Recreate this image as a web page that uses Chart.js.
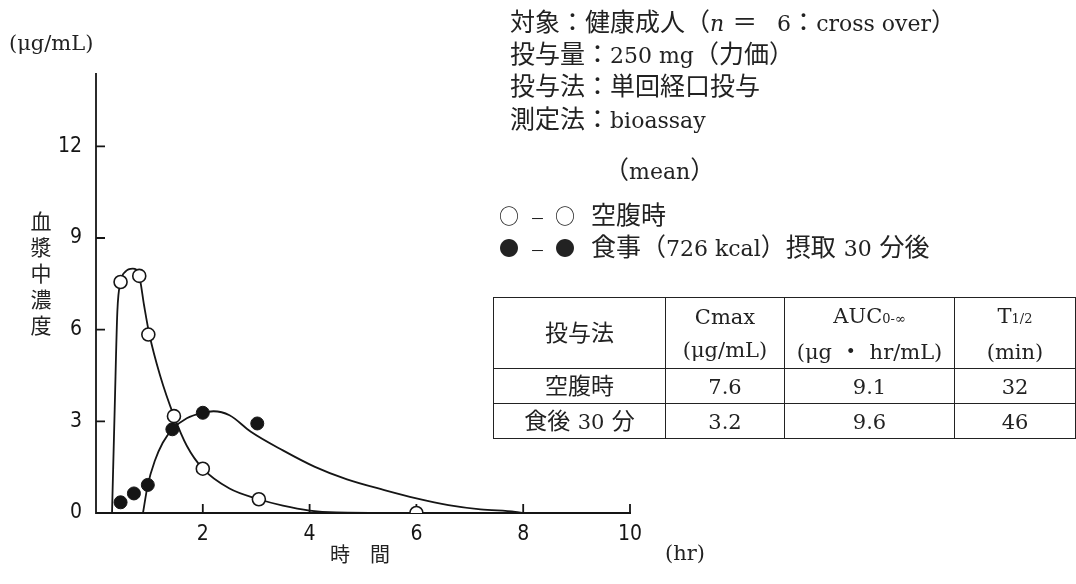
<!DOCTYPE html>
<html lang="ja">
<head>
<meta charset="utf-8">
<script src="https://cdn.jsdelivr.net/npm/chart.js@4.4.1/dist/chart.umd.min.js"></script>
<style>
  html, body { margin: 0; padding: 0; background: #fff; }
  #wrap { position: relative; width: 1076px; height: 584px; overflow: hidden; }
  #c { position: absolute; left: 0; top: 0; }
  .t { position: absolute; white-space: nowrap; color: #222; line-height: 32px;
       font-family: "DejaVu Serif", "Noto Sans CJK JP", serif; }
  .b { font-size: 25px; }
  .l { font-size: 22px; font-family: "DejaVu Serif", serif; }
  .j { font-family: "Noto Sans CJK JP", sans-serif; }
  .m { font-family: "Noto Sans CJK JP", sans-serif; font-size: 20px; }
  .d { font-family: "Noto Sans CJK JP", sans-serif; font-size: 15px; margin: 0 10px 0 11px; }
  table { position: absolute; left: 493px; top: 297px; border-collapse: collapse;
          font-family: "DejaVu Serif", "Noto Sans CJK JP", serif; font-size: 23px; color: #222; }
  td { border: 1.5px solid #222; text-align: center; padding: 0; line-height: 32px; }
  td .l { font-size: 21px; }
  sub { font-size: 13px; vertical-align: baseline; font-family: "DejaVu Serif", serif; }
</style>
</head>
<body>
<div id="wrap">
  <canvas id="c" width="1076" height="584"></canvas>
  <div class="t" style="left:9px;top:27px;font-size:21px;">(μg/mL)</div>
  <div class="t j" style="left:26px;top:211px;font-size:21px;line-height:normal;writing-mode:vertical-rl;letter-spacing:5px;">血漿中濃度</div>
  <div class="t j" style="left:330px;top:538px;font-size:20px;">時　間</div>
  <div class="t" style="left:665px;top:537px;font-size:21px;">(hr)</div>

  <div class="t b" style="left:510px;top:7px;">対象：健康成人（<i class="l">n</i> <span style="margin-right:12px;">＝</span> <span class="l">6</span>：<span class="l">cross over</span>）</div>
  <div class="t b" style="left:510px;top:39px;">投与量：<span class="l">250 mg</span>（力価）</div>
  <div class="t b" style="left:510px;top:71px;">投与法：単回経口投与</div>
  <div class="t b" style="left:510px;top:104px;">測定法：<span class="l">bioassay</span></div>
  <div class="t b" style="left:604px;top:155px;">（<span class="l">mean</span>）</div>
  <div class="t b" style="left:499px;top:200px;"><span class="m">○</span><span class="d">－</span><span class="m">○</span>&nbsp; 空腹時</div>
  <div class="t b" style="left:499px;top:232px;"><span class="m">●</span><span class="d">－</span><span class="m">●</span>&nbsp; 食事（<span class="l">726 kcal</span>）摂取 <span class="l">30</span> 分後</div>

  <table>
    <tr style="height:71px;">
      <td style="width:171px;">投与法</td>
      <td style="width:118px;"><span class="l">Cmax</span><br><span class="l">(μg/mL)</span></td>
      <td style="width:169px;"><span class="l">AUC<sub>0-∞</sub></span><br><span class="l">(μg</span> ・ <span class="l">hr/mL)</span></td>
      <td style="width:120px;"><span class="l">T<sub>1/2</sub></span><br><span class="l">(min)</span></td>
    </tr>
    <tr style="height:35px;"><td>空腹時</td><td><span class="l">7.6</span></td><td><span class="l">9.1</span></td><td><span class="l">32</span></td></tr>
    <tr style="height:35px;"><td>食後 <span class="l">30</span> 分</td><td><span class="l">3.2</span></td><td><span class="l">9.6</span></td><td><span class="l">46</span></td></tr>
  </table>
</div>
<script>
// ---- data ----
const xTicks = [2, 4, 6, 8, 10];
const yTicks = [0, 3, 6, 9, 12];

// measured points, fasting (open circles)
const fastX = [0.46, 0.81, 0.98, 1.46, 2.0, 3.05, 6.0];
const fastY = [7.56, 7.76, 5.84, 3.17, 1.45, 0.45, 0.0];
// measured points, 30 min after meal (filled circles)
const fedX = [0.46, 0.71, 0.97, 1.43, 2.0, 3.02];
const fedY = [0.35, 0.64, 0.92, 2.74, 3.28, 2.93];

// fitted curves
const fastCurveX = [0.30, 0.35, 0.40, 0.46, 0.55, 0.69, 0.81, 0.90, 1.00, 1.20, 1.46, 1.70, 2.00, 2.50, 3.05, 3.50, 4.00, 4.50, 6.00];
const fastCurveY = [0.00, 3.40, 6.60, 7.56, 7.90, 8.00, 7.76, 6.80, 5.84, 4.50, 3.17, 2.20, 1.45, 0.80, 0.45, 0.24, 0.08, 0.02, 0.00];
const fedCurveX = [0.88, 0.97, 1.10, 1.25, 1.43, 1.70, 2.00, 2.20, 2.50, 2.90, 3.50, 4.10, 4.70, 5.40, 6.00, 6.60, 7.20, 7.85, 8.00];
const fedCurveY = [0.00, 0.92, 1.70, 2.30, 2.74, 3.10, 3.28, 3.33, 3.20, 2.66, 2.05, 1.51, 1.10, 0.75, 0.48, 0.26, 0.12, 0.04, 0.00];

const pts = (xs, ys) => xs.map((x, i) => ({ x: x, y: ys[i] }));
const INK = '#151515';

const axesPlugin = {
  id: 'axesPlugin',
  beforeDatasetsDraw(chart) {
    const { ctx, chartArea: a, scales: { x, y } } = chart;
    ctx.save();
    ctx.strokeStyle = INK;
    ctx.lineWidth = 1.8;
    ctx.beginPath();
    ctx.moveTo(a.left, a.top);
    ctx.lineTo(a.left, a.bottom);
    ctx.lineTo(a.right + 1, a.bottom);
    xTicks.forEach(v => {
      const px = x.getPixelForValue(v);
      ctx.moveTo(px, a.bottom);
      ctx.lineTo(px, a.bottom - 9);
    });
    yTicks.forEach(v => {
      if (v === 0) return;
      const py = y.getPixelForValue(v);
      ctx.moveTo(a.left, py);
      ctx.lineTo(a.left + 9, py);
    });
    ctx.stroke();
    ctx.restore();
  }
};

const tickFont = { family: '"Liberation Sans Narrow", "DejaVu Sans Condensed", "Liberation Sans", sans-serif', size: 21 };

new Chart(document.getElementById('c'), {
  type: 'scatter',
  data: {
    datasets: [
      { label: '空腹時', data: pts(fastX, fastY), order: 0,
        pointRadius: 6.5, pointBackgroundColor: '#fff', pointBorderColor: INK, pointBorderWidth: 1.6, showLine: false },
      { label: '食事摂取30分後', data: pts(fedX, fedY), order: 0,
        pointRadius: 6.5, pointBackgroundColor: INK, pointBorderColor: INK, pointBorderWidth: 1, showLine: false },
      { type: 'line', label: 'fast curve', data: pts(fastCurveX, fastCurveY), order: 1,
        borderColor: INK, borderWidth: 1.8, pointRadius: 0, cubicInterpolationMode: 'monotone', fill: false },
      { type: 'line', label: 'fed curve', data: pts(fedCurveX, fedCurveY), order: 1,
        borderColor: INK, borderWidth: 1.8, pointRadius: 0, cubicInterpolationMode: 'monotone', fill: false }
    ]
  },
  options: {
    responsive: false,
    animation: false,
    events: [],
    layout: { padding: { left: 56, right: 446, top: 73, bottom: 41 } },
    plugins: { legend: { display: false }, tooltip: { enabled: false } },
    scales: {
      x: {
        type: 'linear', min: 0, max: 10,
        afterFit: s => { s.height = 30; },
        afterBuildTicks: s => { s.ticks = xTicks.map(v => ({ value: v })); },
        grid: { display: false, drawTicks: false },
        border: { display: false },
        ticks: { font: tickFont, color: INK, padding: 9, maxRotation: 0, autoSkip: false }
      },
      y: {
        type: 'linear', min: 0, max: 14.4,
        afterFit: s => { s.width = 40; },
        afterBuildTicks: s => { s.ticks = yTicks.map(v => ({ value: v })); },
        grid: { display: false, drawTicks: false },
        border: { display: false },
        ticks: { font: tickFont, color: INK, padding: 14, autoSkip: false }
      }
    }
  },
  plugins: [axesPlugin]
});
</script>
</body>
</html>
